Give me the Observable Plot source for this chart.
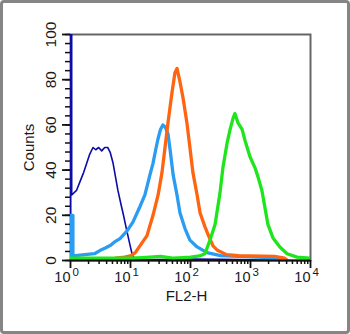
<!DOCTYPE html>
<html><head><meta charset="utf-8">
<script src="https://cdn.jsdelivr.net/npm/d3@7"></script>
<script src="https://cdn.jsdelivr.net/npm/@observablehq/plot@0.6"></script>
<style>
html,body{margin:0;padding:0;background:#fff;}
#wrap{position:relative;width:350px;height:334px;overflow:hidden;background:#fff;}
#border{position:absolute;left:0;top:0;width:350px;height:334px;box-sizing:border-box;border:3px solid #858585;border-radius:4px;pointer-events:none;}
#chart svg{display:block;}
</style></head><body>
<div id="wrap"><div id="chart"></div><div id="border"></div></div>
<script>
// FL2-H given as log10 exponent, paired with Counts
const darkBlue = [[0,0],[0,100],[0.02,100],[0.02,29],[0.1,31],[0.16,35],[0.22,39],[0.27,43],[0.32,47],[0.375,50],[0.42,49],[0.47,50],[0.52,48.5],[0.57,50],[0.62,50],[0.66,48],[0.71,43],[0.75,37],[0.79,31],[0.84,25],[0.875,21],[0.94,13],[0.99,7],[1.025,3],[1.07,0.5],[1.5,0.4],[2.0,0.6],[2.5,0.5],[3.0,0.3],[3.5,0]];
const lightBlue = [[0,0],[0,20],[0.04,20],[0.04,2],[0.2,2.5],[0.4,3],[0.49,4.4],[0.58,5.5],[0.66,6.6],[0.75,8.5],[0.825,9.7],[0.94,13],[1.04,17],[1.16,24],[1.24,29],[1.325,38],[1.375,43],[1.42,49],[1.46,54],[1.5,58],[1.54,60],[1.58,59],[1.625,56],[1.66,49],[1.71,38],[1.775,29],[1.825,21],[1.91,14],[1.99,9],[2.11,6],[2.275,3.5],[2.5,2.2],[2.8,1.8],[3.1,1.5],[3.5,1.2],[3.6,0]];
const orange = [[0.69,0.5],[0.75,1],[0.9,1.5],[1.0,2],[1.08,3.5],[1.16,6.6],[1.275,11],[1.375,20],[1.46,29],[1.525,39],[1.575,50],[1.625,61],[1.69,74],[1.74,83],[1.775,85],[1.8,82],[1.825,79],[1.875,72],[1.94,61],[1.99,50],[2.04,39],[2.11,29],[2.16,21],[2.24,15],[2.3,11],[2.375,6.5],[2.45,4.5],[2.6,2.6],[2.8,2.2],[3.0,2],[3.4,1.8],[3.57,1],[3.62,0]];
const green = [[0,1],[0.5,1],[1.0,1],[1.2,1.3],[1.5,1.8],[1.7,1],[1.8,1.2],[2.0,1.5],[2.15,2],[2.24,3],[2.325,9],[2.41,16],[2.49,29.6],[2.54,41],[2.61,52],[2.66,58],[2.71,63],[2.74,65],[2.79,61],[2.86,58],[2.91,53],[2.99,46],[3.075,41],[3.125,37],[3.19,31],[3.24,23.5],[3.29,16],[3.375,10],[3.49,6],[3.61,3],[3.775,1.5],[4.0,1]];

const xMajorExp = [0,1,2,3,4];
const xMinor = [2,3,4,5,6,7,8,9];
const yMajor = [0,20,40,60,80,100];
const yMinorStep = 4;
const xLabel = "FL2-H";
const yLabel = "Counts";

const toRows = arr => arr.map(([e, c]) => ({x: Math.pow(10, e), y: c}));
const xMinorTicks = xMajorExp.slice(0, -1).flatMap(e => xMinor.map(m => m * Math.pow(10, e)));
const xMajorTicks = xMajorExp.map(e => Math.pow(10, e));
const yMinorTicks = d3.range(0, 100 + 0.001, yMinorStep);

const font = "'Liberation Sans', Arial, Helvetica, sans-serif";

const plot = Plot.plot({
  width: 350,
  height: 334,
  marginLeft: 70,
  marginRight: 40,
  marginTop: 34,
  marginBottom: 74,
  style: {fontFamily: font, background: "transparent", color: "#1a1a1a"},
  x: {type: "log", domain: [1, 10000], label: null},
  y: {domain: [0, 100], label: null},
  marks: [
    Plot.frame({stroke: "#666", strokeWidth: 2}),
    Plot.line(toRows(darkBlue), {x: "x", y: "y", stroke: "#0c0ca6", strokeWidth: 1.6, clip: true}),
    Plot.line(toRows(lightBlue), {x: "x", y: "y", stroke: "#2a9cf2", strokeWidth: 3.3, clip: true}),
    Plot.line(toRows(orange), {x: "x", y: "y", stroke: "#ff6410", strokeWidth: 3.3, clip: true}),
    Plot.line(toRows(green), {x: "x", y: "y", stroke: "#1fe61c", strokeWidth: 3.3, clip: true}),
    Plot.ruleY([0], {stroke: "#111", strokeWidth: 2}),
    Plot.axisX({ticks: xMinorTicks, tickSize: 4, tickFormat: () => "", label: null, stroke: "#111", strokeWidth: 1.5}),
    Plot.axisX({ticks: xMajorTicks, tickSize: 8, tickFormat: () => "", label: null, stroke: "#111", strokeWidth: 1.8}),
    Plot.axisY({ticks: yMinorTicks, tickSize: 5, tickFormat: () => "", label: null, stroke: "#111", strokeWidth: 1.5}),
    Plot.axisY({ticks: yMajor, tickSize: 8, tickFormat: () => "", label: null, stroke: "#111", strokeWidth: 1.8}),
    Plot.text(xMajorExp, {x: e => Math.pow(10, e), text: () => "10", frameAnchor: "bottom", lineAnchor: "bottom", textAnchor: "end", dx: 0, dy: 21, fontSize: 14.5, fill: "#1a1a1a"}),
    Plot.text(xMajorExp, {x: e => Math.pow(10, e), text: e => String(e), frameAnchor: "bottom", lineAnchor: "bottom", textAnchor: "start", dx: 2, dy: 15, fontSize: 11.5, fill: "#1a1a1a"}),
    Plot.text(yMajor, {y: d => d, text: d => String(d), frameAnchor: "left", rotate: -90, lineAnchor: "middle", textAnchor: "middle", dx: -19, fontSize: 15.5, fill: "#1a1a1a"}),
    Plot.text([yLabel], {text: d => d, frameAnchor: "left", rotate: -90, lineAnchor: "middle", textAnchor: "middle", dx: -41, fontSize: 15, fill: "#1a1a1a"}),
    Plot.text([xLabel], {text: d => d, frameAnchor: "bottom", lineAnchor: "bottom", textAnchor: "middle", dx: -4, dy: 40, fontSize: 15, fill: "#1a1a1a"})
  ]
});
document.getElementById("chart").appendChild(plot);
</script>
</body></html>
